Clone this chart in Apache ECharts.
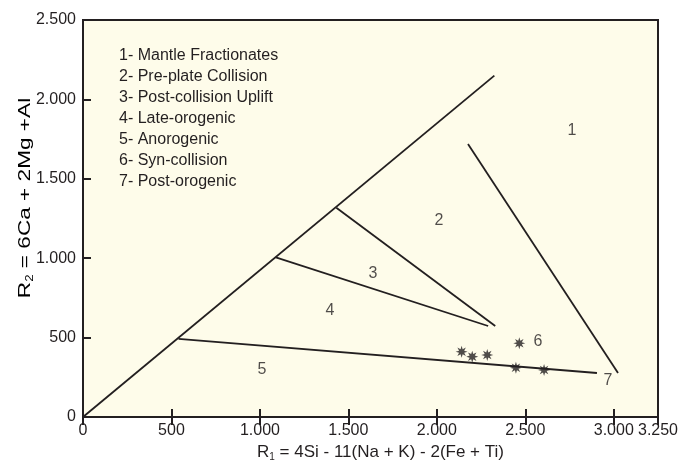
<!DOCTYPE html>
<html>
<head>
<meta charset="utf-8">
<title>R1-R2 tectonic discrimination diagram</title>
<script src="https://cdn.jsdelivr.net/npm/echarts@6/dist/echarts.min.js"></script>
<style>
  html, body { margin: 0; padding: 0; background: #ffffff; }
  #chart { width: 693px; height: 468px; }
</style>
</head>
<body>
<div id="chart"></div>
<script>
// Sample compositions (R1, R2)
const sampleR1 = [2140, 2200, 2285, 2466, 2447, 2606];
const sampleR2 = [411, 380, 390, 464, 310, 296];

// Field boundaries, as [R1, R2] end points
const edgeOuter = [[0, 0], [2325, 2150]];
const edgeAnorogenic = [[540, 492], [2905, 277]];
const edgeLateOrogenic = [[1090, 1005], [2290, 573]];
const edgeUplift = [[1432, 1318], [2330, 573]];
const edgeMantle = [[2176, 1719], [3024, 277]];

// Field numbers and where they sit
const fieldNames = ['1', '2', '3', '4', '5', '6', '7'];
const fieldR1 = [2764, 2012, 1639, 1396, 1012, 2572, 2967];
const fieldR2 = [1801, 1234, 900, 668, 296, 472, 227];

// Key to the field numbers
const legendLines = [
  '1- Mantle Fractionates',
  '2- Pre-plate Collision',
  '3- Post-collision Uplift',
  '4- Late-orogenic',
  '5- Anorogenic',
  '6- Syn-collision',
  '7- Post-orogenic'
];

// Tick values and their printed labels
const xTickValues = [0, 500, 1000, 1500, 2000, 2500, 3000, 3250];
const xTickLabels = ['0', '500', '1.000', '1.500', '2.000', '2.500', '3.000', '3.250'];
const yTickValues = [0, 500, 1000, 1500, 2000, 2500];
const yTickLabels = ['0', '500', '1.000', '1.500', '2.000', '2.500'];

const ink = '#231f20';
const font = 'Liberation Sans, Arial, sans-serif';

function tickText(values, labels) {
  return function (v) {
    const i = values.indexOf(v);
    return i >= 0 ? labels[i] : '';
  };
}

// Eight-pointed asterisk used for the sample markers
function asteriskPath() {
  const pts = [];
  const n = 8, outer = 10, inner = 4.6;
  for (let k = 0; k < n * 2; k++) {
    const r = k % 2 === 0 ? outer : inner;
    const a = Math.PI * k / n - Math.PI / 2;
    pts.push((10 + r * Math.cos(a)).toFixed(2) + ',' + (10 + r * Math.sin(a)).toFixed(2));
  }
  return 'path://M' + pts.join('L') + 'Z';
}

const boundaryStyle = { color: ink, width: 1.8 };
function boundary(points) {
  return {
    type: 'line',
    data: points,
    symbol: 'none',
    silent: true,
    lineStyle: boundaryStyle,
    z: 3
  };
}

const titleRich = {
  t: { fontFamily: font, fontSize: 17, color: ink, lineHeight: 20 },
  s: { fontFamily: font, fontSize: 10, color: ink, lineHeight: 10, verticalAlign: 'bottom' }
};

const chart = echarts.init(document.getElementById('chart'), null, { renderer: 'canvas' });

const axisLineStyle = { show: true, lineStyle: { color: ink, width: 2 } };
const tickStyle = { show: true, inside: true, length: 8, lineStyle: { color: ink, width: 2 } };

chart.setOption({
  animation: false,
  backgroundColor: '#ffffff',
  grid: {
    left: 83, right: 35, top: 20, bottom: 51,
    show: true,
    backgroundColor: '#fefcea',
    borderColor: ink,
    borderWidth: 2
  },
  xAxis: [
    {
      type: 'value',
      position: 'bottom',
      min: 0, max: 3250, interval: 500,
      axisLine: axisLineStyle,
      axisTick: tickStyle,
      splitLine: { show: false },
      axisLabel: {
        color: ink, fontFamily: font, fontSize: 16, margin: 6,
        showMaxLabel: true,
        formatter: tickText(xTickValues, xTickLabels)
      },
      name: '{t|R}{s|1}{t| = 4Si - 11(Na + K) - 2(Fe + Ti)}',
      nameLocation: 'middle',
      nameGap: 25,
      nameTextStyle: { padding: [0, 0, 0, 20], rich: titleRich }
    },
    {
      type: 'value',
      position: 'top',
      min: 0, max: 3250, interval: 500,
      axisLine: axisLineStyle,
      axisTick: tickStyle,
      axisLabel: { show: false },
      splitLine: { show: false }
    }
  ],
  yAxis: [
    {
      type: 'value',
      position: 'left',
      min: 0, max: 2500, interval: 500,
      axisLine: axisLineStyle,
      axisTick: tickStyle,
      splitLine: { show: false },
      axisLabel: {
        color: ink, fontFamily: font, fontSize: 16, margin: 7,
        formatter: tickText(yTickValues, yTickLabels)
      }
    },
    {
      type: 'value',
      position: 'right',
      min: 0, max: 2500, interval: 500,
      axisLine: axisLineStyle,
      axisTick: { show: false },
      axisLabel: { show: false },
      splitLine: { show: false }
    }
  ],
  graphic: [
    {
      // Key to the fields
      type: 'text',
      left: 119,
      top: 45,
      silent: true,
      style: {
        text: legendLines.join('\n'),
        font: '16px ' + font,
        lineHeight: 21,
        fill: ink
      }
    },
    {
      // Vertical axis title, set in a wide face
      type: 'text',
      x: 25,
      y: 198,
      rotation: Math.PI / 2,
      scaleX: 1.33,
      silent: true,
      style: {
        text: '{t|R}{s|2}{t| = 6Ca + 2Mg +Al}',
        rich: titleRich,
        align: 'center',
        verticalAlign: 'middle'
      }
    }
  ],
  series: [
    boundary(edgeOuter),
    boundary(edgeAnorogenic),
    boundary(edgeLateOrogenic),
    boundary(edgeUplift),
    boundary(edgeMantle),
    {
      type: 'scatter',
      silent: true,
      symbolSize: 0,
      data: fieldNames.map((n, i) => ({ name: n, value: [fieldR1[i], fieldR2[i]] })),
      label: {
        show: true,
        position: 'inside',
        formatter: '{b}',
        color: ink,
        fontFamily: font,
        fontSize: 16
      },
      z: 4
    },
    {
      type: 'scatter',
      silent: true,
      symbol: asteriskPath(),
      symbolSize: 12,
      itemStyle: { color: ink },
      data: sampleR1.map((x, i) => [x, sampleR2[i]]),
      z: 5
    }
  ]
});
</script>
</body>
</html>
